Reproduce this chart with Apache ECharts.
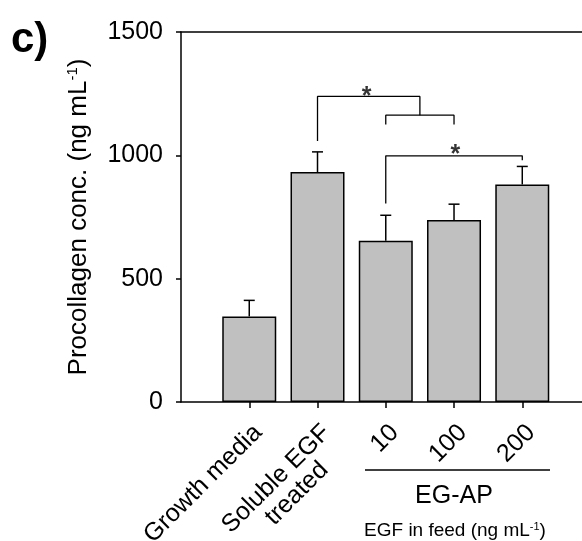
<!DOCTYPE html>
<html>
<head>
<meta charset="utf-8">
<script src="https://cdn.jsdelivr.net/npm/echarts@6/dist/echarts.min.js"></script>
<style>
  html, body { margin: 0; padding: 0; background: #fff; }
  #main { width: 582px; height: 541px; }
</style>
</head>
<body>
<div id="main"></div>
<script>
var categories = ['Growth media', 'Soluble EGF\ntreated', '10', '100', '200'];
var xPos = [1, 2, 3, 4, 5];
var means = [347, 932, 654, 738, 882];
var sds = [65, 82, 103, 64, 73];
var yTicks = [0, 500, 1000, 1500];

// significance brackets: [x, y] polylines
var bracketA = [[2, 1058], [2, 1239], [3.5, 1239], [3.5, 1163]];
var bracketB = [[3, 1125], [3, 1163], [4, 1163], [4, 1125]];
var bracketC = [[3, 805], [3, 998], [5, 998], [5, 980]];
var stars = [[2.72, 1265], [4.02, 1029]];

var font = 'Liberation Sans, Arial, sans-serif';
var chart = echarts.init(document.getElementById('main'));

var barData = xPos.map(function (x, i) { return [x, means[i]]; });
var errData = xPos.map(function (x, i) { return [x, means[i], means[i] + sds[i]]; });

function bracketSeries(pts) {
    return {
        type: 'line',
        data: pts,
        symbol: 'none',
        silent: true,
        lineStyle: { color: '#000', width: 1.3 },
        z: 5
    };
}

option = {
    animation: false,
    textStyle: { fontFamily: font },
    grid: { left: 181, right: 0, top: 32, bottom: 139, containLabel: false, outerBoundsMode: 'none' },
    xAxis: [{
        type: 'value',
        min: 0,
        max: 5.875,
        interval: 1,
        splitLine: { show: false },
        axisLine: { lineStyle: { color: '#000', width: 1.5 } },
        axisTick: { show: true, length: 6, customValues: xPos, lineStyle: { color: '#000', width: 1.5 } },
        axisLabel: {
            rotate: 45,
            margin: 18,
            verticalAlign: 'top',
            customValues: xPos,
            color: '#000',
            fontSize: 25,
            fontFamily: font,
            formatter: function (v) {
                var i = Math.round(v) - 1;
                if (i < 0 || i >= categories.length) return '';
                // second line roughly centred under the first
                return categories[i].replace(/\ntreated$/, '\ntreated    ');
            }
        }
    }, {
        type: 'value',
        position: 'top',
        min: 0,
        max: 5.875,
        splitLine: { show: false },
        axisLine: { show: true, lineStyle: { color: '#000', width: 1.5 } },
        axisTick: { show: false },
        axisLabel: { show: false }
    }],
    yAxis: {
        type: 'value',
        min: yTicks[0],
        max: yTicks[yTicks.length - 1],
        interval: 500,
        splitLine: { show: false },
        axisLine: { show: true, lineStyle: { color: '#000', width: 1.5 } },
        axisTick: { show: true, length: 5, lineStyle: { color: '#000', width: 1.5 } },
        axisLabel: {
            color: '#000', fontSize: 25, margin: 18, fontFamily: font,
            formatter: function (v) { return String(v); }
        },
        name: '{a|Procollagen conc. (ng mL}{s|-1}{a|)}',
        nameLocation: 'middle',
        nameGap: 89,
        nameTextStyle: {
            rich: {
                a: { fontSize: 26, color: '#000', fontFamily: font },
                s: { fontSize: 15, color: '#000', fontFamily: font, verticalAlign: 'top', padding: [0, 0, 12, 0] }
            }
        }
    },
    series: [
        {
            type: 'bar',
            data: barData,
            barWidth: 54,
            itemStyle: { color: '#c0c0c0', borderColor: '#000', borderWidth: 1.5 },
            z: 2
        },
        {
            type: 'custom',
            data: errData,
            z: 4,
            renderItem: function (params, api) {
                var base = api.coord([api.value(0), api.value(1)]);
                var top = api.coord([api.value(0), api.value(2)]);
                var st = { stroke: '#000', lineWidth: 1.5 };
                return {
                    type: 'group',
                    children: [
                        { type: 'line', shape: { x1: base[0], y1: base[1], x2: top[0], y2: top[1] }, style: st },
                        { type: 'line', shape: { x1: top[0] - 5.5, y1: top[1], x2: top[0] + 5.5, y2: top[1] }, style: st }
                    ]
                };
            }
        },
        bracketSeries(bracketA),
        bracketSeries(bracketB),
        bracketSeries(bracketC),
        {
            type: 'scatter',
            data: stars,
            symbolSize: 0,
            silent: true,
            label: {
                show: true,
                position: 'inside',
                formatter: '*',
                fontSize: 25,
                fontWeight: 'bold',
                color: '#000',
                fontFamily: font,
                offset: [0, 7]
            }
        }
    ],
    graphic: [
        {
            type: 'text', left: 11, top: 19,
            style: { text: 'c)', font: 'bold 42px ' + font, fill: '#000' }
        },
        {
            type: 'line',
            shape: { x1: 365, y1: 470, x2: 550, y2: 470 },
            style: { stroke: '#000', lineWidth: 1.3 }
        },
        {
            type: 'text', x: 454, y: 496,
            style: { text: 'EG-AP', font: '25px ' + font, fill: '#000', align: 'center', verticalAlign: 'middle' }
        },
        {
            type: 'text', x: 455, y: 531,
            style: {
                text: '{a|EGF in feed (ng mL}{s|-1}{a|)}',
                align: 'center',
                verticalAlign: 'middle',
                rich: {
                    a: { fontSize: 19, fill: '#000', fontFamily: font },
                    s: { fontSize: 11, fill: '#000', fontFamily: font, verticalAlign: 'top', padding: [0, 0, 9, 0] }
                }
            }
        }
    ]
};

chart.setOption(option);
window.addEventListener('resize', function () {
    chart.resize();
});
</script>
</body>
</html>
